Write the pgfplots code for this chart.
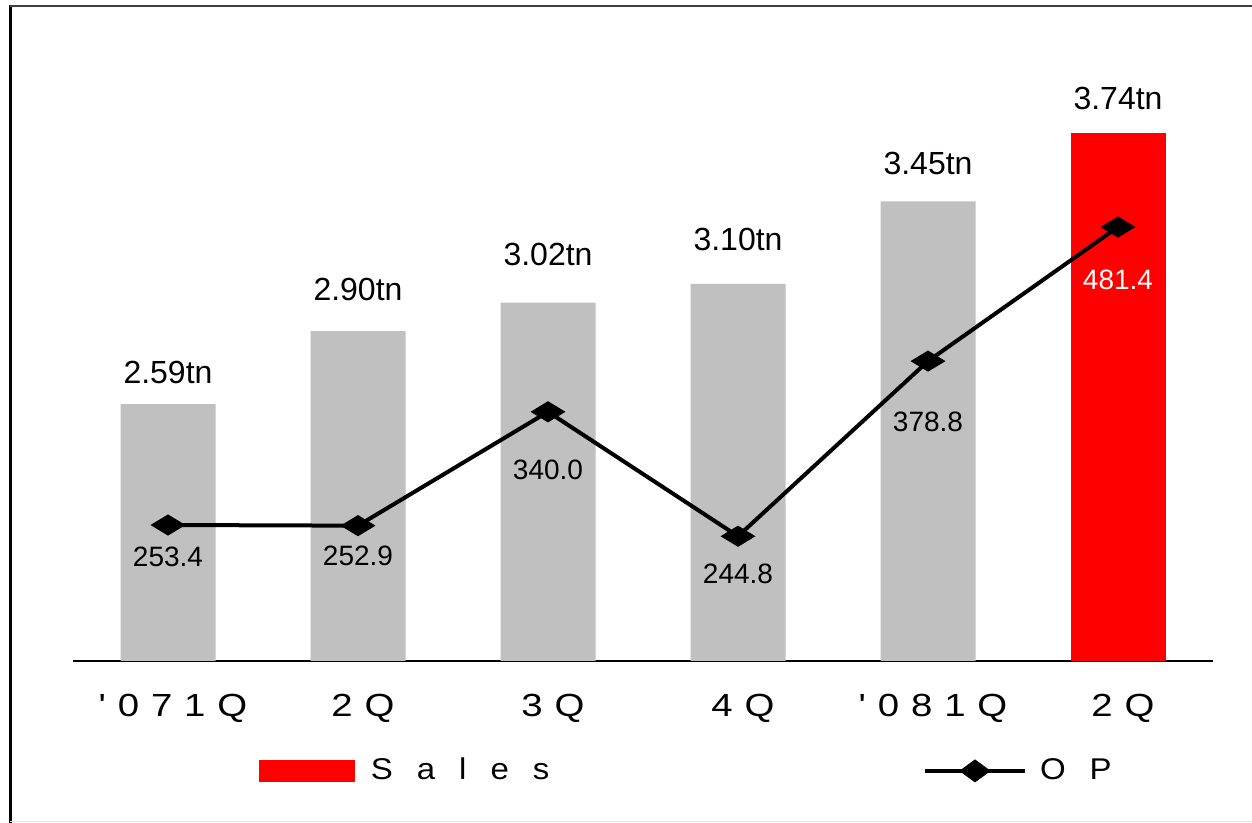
\documentclass[border=0pt]{standalone}
\usepackage{fontspec}
\setmainfont{Liberation Sans}
\newfontfamily\tickfont[LetterSpace=37,FakeStretch=1.2]{Liberation Sans}
\newfontfamily\legfont[LetterSpace=80,FakeStretch=1.1]{Liberation Sans}
\usepackage{pgfplots}
\usepackage{pgfplotstable}
\pgfplotsset{compat=1.18}
\definecolor{bargray}{HTML}{C0C0C0}
\definecolor{barred}{HTML}{FF0000}

\pgfplotstableread{
x y off lbl
0 2.59 32 2.59tn
1 2.90 42 2.90tn
2 3.02 48 3.02tn
3 3.10 44 3.10tn
4 3.45 38 3.45tn
}\graybars
\pgfplotstableread{
x y off lbl
5 3.74 35 3.74tn
}\redbars
\pgfplotstableread{
x y off col lbl
0 253.4 32 100 253.4
1 252.9 30 100 252.9
2 340.0 58 100 340.0
3 244.8 38 100 244.8
4 378.8 61 100 378.8
5 481.4 53 0 481.4
}\optable

\begin{document}
\begin{tikzpicture}
\path[use as bounding box] (0pt,0pt) rectangle (626pt,411.5pt);
\fill[white] (0pt,0pt) rectangle (626pt,411.5pt);
\draw[line width=1.5pt,black] (5pt,0pt) -- (5pt,408.75pt);
\draw[line width=1pt,black!75] (4.75pt,408.5pt) -- (626pt,408.5pt);
\draw[line width=0.5pt,black!10] (5pt,0.5pt) -- (626pt,0.5pt);

\begin{axis}[
  at={(36.5pt,81pt)}, anchor=south west,
  scale only axis, width=570pt, height=310.5pt,
  xmin=-0.5, xmax=5.5, ymin=1.5, ymax=4.1347,
  axis x line*=bottom, axis y line=none,
  x axis line style={-, line width=1pt},
  xtick={0,1,2,3,4,5},
  xticklabels={'071Q,2Q,3Q,4Q,'081Q,2Q},
  major tick length=0pt,
  xticklabel style={anchor=center, yshift=-23.5pt, xshift=2.5pt, font=\fontsize{16pt}{16pt}\tickfont},
  legend style={at={(0.1632,-0.1763)}, anchor=west, draw=none, fill=none, inner sep=0pt, outer sep=0pt, column sep=8pt, nodes={inner sep=0pt}, font=\fontsize{15pt}{15pt}\legfont},
  legend cell align=left,
  nodes near coords={\pgfplotspointmeta},
  point meta=explicit symbolic,
  visualization depends on={\thisrow{off}\as\off},
  every node near coord/.append style={anchor=center, yshift={0.5pt*\off}, font=\fontsize{16pt}{16pt}\selectfont, black},
]
\addplot[ybar, bar width=47.5pt, bar shift=0pt, fill=bargray, draw=none, forget plot] table[x=x,y=y,meta=lbl] {\graybars};
\addplot[ybar, bar width=47.5pt, bar shift=0pt, fill=barred, draw=none, forget plot] table[x=x,y=y,meta=lbl] {\redbars};
\addlegendimage{legend image code/.code={\fill[barred] (0pt,-5.25pt) rectangle (47.5pt,5.25pt);}}
\addlegendentry{Sales}
\end{axis}

\begin{axis}[
  at={(36.5pt,81pt)}, anchor=south west,
  scale only axis, width=570pt, height=310.5pt,
  xmin=-0.5, xmax=5.5, ymin=149.35, ymax=624.5,
  axis lines=none,
  legend style={at={(0.7456,-0.177)}, anchor=west, draw=none, fill=none, inner sep=0pt, outer sep=0pt, column sep=6.5pt, nodes={inner sep=0pt}, font=\fontsize{15pt}{15pt}\legfont},
  legend cell align=left,
]
\addplot[black, line width=2pt, mark=diamond*, mark size=5pt, mark options={xscale=2.2, line width=0.5pt},
  nodes near coords={\textcolor{black!\lblcol}{\pgfplotspointmeta}},
  point meta=explicit symbolic,
  visualization depends on={\thisrow{col}\as\lblcol},
  visualization depends on={\thisrow{off}\as\off},
  every node near coord/.append style={anchor=center, yshift={-0.5pt*\off}, font=\fontsize{14pt}{14pt}\selectfont},
  forget plot] table[x=x,y=y,meta=lbl] {\optable};
\addlegendimage{legend image code/.code={\draw[line width=2pt,black] (0pt,0pt) -- (50pt,0pt); \fill[black] (17.5pt,0pt) -- (25pt,5.5pt) -- (32.5pt,0pt) -- (25pt,-5.5pt) -- cycle;}}
\addlegendentry{OP}
\end{axis}
\end{tikzpicture}
\end{document}
